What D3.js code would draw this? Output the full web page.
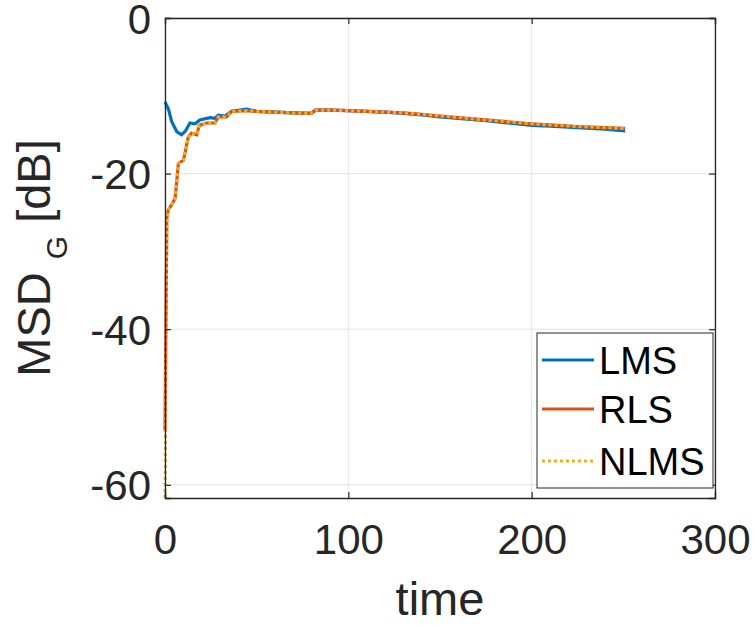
<!DOCTYPE html>
<html lang="en">
<head>
	<meta charset="utf-8">
	<title>MSD_G vs time</title>
	<script src="https://cdn.jsdelivr.net/npm/d3@7"></script>
	<style>
		body { margin: 0; background: #fff; }
		text { font-family: "Liberation Sans", Arial, sans-serif; }
	</style>
</head>
<body>
<script>
// data
var timeLMS = [0, 2, 3.6, 6.4, 9, 11, 13.6, 16.4, 19, 24.5, 27.3, 29, 32.7, 36.4, 44.5, 50, 60, 70, 80, 82, 90, 100, 110, 120, 130, 140, 150, 160, 175, 190, 200, 210, 225, 240, 251];
var lmsVals = [-10.8, -11.8, -13.3, -14.6, -15.0, -14.6, -13.5, -13.6, -13.1, -12.8, -12.9, -12.5, -12.6, -12.0, -11.7, -12.0, -12.1, -12.2, -12.25, -11.85, -11.85, -11.9, -12.0, -12.1, -12.25, -12.45, -12.7, -12.9, -13.2, -13.55, -13.8, -13.9, -14.1, -14.3, -14.5];

var timeRLS = [0, 1, 1.8, 3.6, 5.5, 6.4, 7.3, 10, 10.9, 12.7, 14.5, 17.3, 18.7, 22.7, 27.3, 29.1, 33.6, 36.4, 44.5, 50, 60, 70, 80, 82, 90, 100, 110, 120, 130, 140, 150, 160, 175, 190, 200, 210, 225, 240, 251];
var rlsVals = [-53, -25.7, -24.7, -24.0, -23.2, -21.0, -18.7, -18.3, -17.4, -15.3, -14.8, -15.0, -13.8, -13.5, -13.5, -12.7, -12.7, -12.0, -11.9, -12.0, -12.1, -12.2, -12.25, -11.85, -11.85, -11.9, -12.0, -12.1, -12.2, -12.4, -12.6, -12.8, -13.1, -13.4, -13.6, -13.75, -13.95, -14.1, -14.2];

var timeNLMS = [0, 0.5, 1, 1.8, 3.6, 5.5, 6.4, 7.3, 10, 10.9, 12.7, 14.5, 17.3, 18.7, 22.7, 27.3, 29.1, 33.6, 36.4, 44.5, 50, 60, 70, 80, 82, 90, 100, 110, 120, 130, 140, 150, 160, 175, 190, 200, 210, 225, 240, 251];
var nlmsVals = [-61.7, -45, -25.8, -24.7, -24.0, -23.2, -21.0, -18.7, -18.3, -17.4, -15.3, -14.8, -15.0, -13.8, -13.5, -13.5, -12.7, -12.7, -12.0, -11.9, -12.0, -12.1, -12.2, -12.25, -11.85, -11.85, -11.9, -12.0, -12.1, -12.2, -12.4, -12.6, -12.8, -13.1, -13.4, -13.6, -13.75, -13.95, -14.1, -14.2];

var xTicks = [0, 100, 200, 300];
var yTicks = [0, -20, -40, -60];
var seriesNames = ["LMS", "RLS", "NLMS"];
var seriesColors = ["#0072BD", "#D95319", "#EDB120"];

var plotLeft = 165, plotRight = 715, plotTop = 18, plotBottom = 498;

var svg = d3.select("body").append("svg")
	.attr("width", 755)
	.attr("height", 625);

var xScale = d3.scaleLinear().domain([0, 300]).range([plotLeft, plotRight]);
var yScale = d3.scaleLinear().domain([-61.7, 0]).range([plotBottom, plotTop]);

// grid
svg.append("g").selectAll("line").data(xTicks).enter().append("line")
	.attr("x1", function(d){ return xScale(d); }).attr("x2", function(d){ return xScale(d); })
	.attr("y1", plotTop).attr("y2", plotBottom)
	.style("stroke", "#e3e3e3").style("stroke-width", 1);
svg.append("g").selectAll("line").data(yTicks).enter().append("line")
	.attr("y1", function(d){ return yScale(d); }).attr("y2", function(d){ return yScale(d); })
	.attr("x1", plotLeft).attr("x2", plotRight)
	.style("stroke", "#e3e3e3").style("stroke-width", 1);

// lines
var line = d3.line()
	.x(function(d){ return xScale(d[0]); })
	.y(function(d){ return yScale(d[1]); });

var plot = svg.append("g");
plot.append("path").datum(d3.zip(timeLMS, lmsVals))
	.attr("d", line).style("fill", "none")
	.style("stroke", seriesColors[0]).style("stroke-width", 3.2);
plot.append("path").datum(d3.zip(timeRLS, rlsVals))
	.attr("d", line).style("fill", "none")
	.style("stroke", seriesColors[1]).style("stroke-width", 3.2);
plot.append("path").datum(d3.zip(timeNLMS, nlmsVals))
	.attr("d", line).style("fill", "none")
	.style("stroke", seriesColors[2]).style("stroke-width", 3)
	.style("stroke-dasharray", "3,3");

// axes (MATLAB style, ticks inside, box)
var fmt = function(d){ return String(d); };
var xAxis = d3.axisBottom(xScale).tickValues(xTicks).tickSize(-6).tickPadding(26).tickFormat(fmt);
var yAxis = d3.axisLeft(yScale).tickValues(yTicks).tickSize(-6).tickPadding(14).tickFormat(fmt);
var xTop = d3.axisTop(xScale).tickValues(xTicks).tickSize(-6).tickFormat("");
var yRight = d3.axisRight(yScale).tickValues(yTicks).tickSize(-6).tickFormat("");

svg.append("g").attr("id", "x-axis").attr("transform", "translate(0," + plotBottom + ")").call(xAxis);
svg.append("g").attr("id", "y-axis").attr("transform", "translate(" + plotLeft + ",0)").call(yAxis);
svg.append("g").attr("transform", "translate(0," + plotTop + ")").call(xTop);
svg.append("g").attr("transform", "translate(" + plotRight + ",0)").call(yRight);

svg.selectAll(".domain").style("stroke", "#262626").style("stroke-width", 1.3);
svg.selectAll(".tick line").style("stroke", "#262626").style("stroke-width", 1.2);
svg.selectAll(".tick text").style("fill", "#262626").style("font-size", "42px")
	.style("font-family", "'Liberation Sans', Arial, sans-serif");
svg.select("#x-axis").selectAll(".tick text").attr("dy", "0.71em");
svg.select("#y-axis").selectAll(".tick text").attr("dy", "0.36em");

// axis labels
svg.append("text")
	.attr("x", (plotLeft + plotRight) / 2).attr("y", 615)
	.attr("text-anchor", "middle")
	.style("font-size", "47px").style("fill", "#262626")
	.text("time");

var ylab = svg.append("text")
	.attr("transform", "translate(50," + (plotTop + plotBottom) / 2 + ") rotate(-90)")
	.attr("text-anchor", "middle")
	.style("font-size", "47px").style("fill", "#262626");
ylab.append("tspan").text("MSD ");
ylab.append("tspan").attr("dy", 17).style("font-size", "30px").text("G");
ylab.append("tspan").attr("dy", -17).text(" [dB]");

// legend
var legend = svg.append("g");
legend.append("rect")
	.attr("x", 537).attr("y", 333).attr("width", 176).attr("height", 155)
	.style("fill", "#fff").style("stroke", "#262626").style("stroke-width", 1);
var legendY = [360, 409, 461];
seriesNames.forEach(function(name, i){
	legend.append("line")
		.attr("x1", 542).attr("x2", 594)
		.attr("y1", legendY[i]).attr("y2", legendY[i])
		.style("stroke", seriesColors[i]).style("stroke-width", 3.2)
		.style("stroke-dasharray", i == 2 ? "3,3" : null);
	legend.append("text")
		.attr("x", 599).attr("y", legendY[i] + 14)
		.style("font-size", "38px").style("fill", "#000")
		.text(name);
});
</script>
</body>
</html>
